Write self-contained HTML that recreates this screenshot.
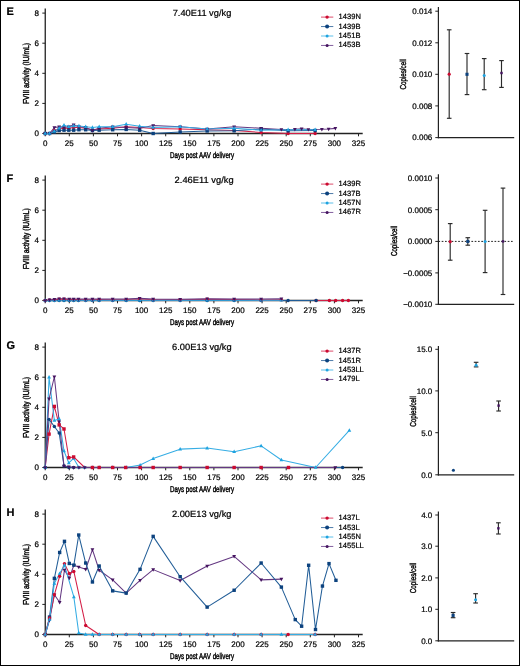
<!DOCTYPE html><html><head><meta charset="utf-8"><style>html,body{margin:0;padding:0;background:#fff}#f{position:relative;width:520px;height:666px;box-sizing:border-box;border:1px solid #000;overflow:hidden;background:#fff}svg{position:absolute;left:-1px;top:-1px}text{stroke:#000;stroke-width:0.22px;fill:#000;text-rendering:geometricPrecision}#f{will-change:transform}</style></head><body><div id="f"><svg width="520" height="666" viewBox="0 0 520 666">
<text x="6.4" y="15.00" font-size="11" font-weight="bold" font-family="Liberation Sans, sans-serif" fill="#000">E</text>
<text x="172.7" y="15.55" font-size="9.1" font-family="Liberation Sans, sans-serif" fill="#111" textLength="58.6" lengthAdjust="spacingAndGlyphs">7.40E11 vg/kg</text>
<text transform="translate(29.2 73.50) rotate(-90)" x="0" y="0" text-anchor="middle" font-size="8.6" font-family="Liberation Sans, sans-serif" fill="#111" style="stroke-width:0.42px" textLength="61" lengthAdjust="spacingAndGlyphs">FVIII activity (IU/mL)</text>
<text x="170.0" y="157.80" font-size="8.5" font-family="Liberation Sans, sans-serif" fill="#111" style="stroke-width:0.42px" textLength="64" lengthAdjust="spacingAndGlyphs">Days post AAV delivery</text>
<line x1="42.3" y1="133.50" x2="45.25" y2="133.50" stroke="#222" stroke-width="1"/>
<text x="38.9" y="136.10" text-anchor="end" font-size="8" font-family="Liberation Sans, sans-serif" fill="#111">0</text>
<line x1="42.3" y1="103.40" x2="45.25" y2="103.40" stroke="#222" stroke-width="1"/>
<text x="38.9" y="106.00" text-anchor="end" font-size="8" font-family="Liberation Sans, sans-serif" fill="#111">2</text>
<line x1="42.3" y1="73.30" x2="45.25" y2="73.30" stroke="#222" stroke-width="1"/>
<text x="38.9" y="75.90" text-anchor="end" font-size="8" font-family="Liberation Sans, sans-serif" fill="#111">4</text>
<line x1="42.3" y1="43.20" x2="45.25" y2="43.20" stroke="#222" stroke-width="1"/>
<text x="38.9" y="45.80" text-anchor="end" font-size="8" font-family="Liberation Sans, sans-serif" fill="#111">6</text>
<line x1="42.3" y1="13.10" x2="45.25" y2="13.10" stroke="#222" stroke-width="1"/>
<text x="38.9" y="15.70" text-anchor="end" font-size="8" font-family="Liberation Sans, sans-serif" fill="#111">8</text>
<line x1="45.20" y1="133.50" x2="45.20" y2="136.30" stroke="#222" stroke-width="1"/>
<text x="45.20" y="145.80" text-anchor="middle" font-size="8" font-family="Liberation Sans, sans-serif" fill="#111">0</text>
<line x1="69.30" y1="133.50" x2="69.30" y2="136.30" stroke="#222" stroke-width="1"/>
<text x="69.30" y="145.80" text-anchor="middle" font-size="8" font-family="Liberation Sans, sans-serif" fill="#111">25</text>
<line x1="93.40" y1="133.50" x2="93.40" y2="136.30" stroke="#222" stroke-width="1"/>
<text x="93.40" y="145.80" text-anchor="middle" font-size="8" font-family="Liberation Sans, sans-serif" fill="#111">50</text>
<line x1="117.50" y1="133.50" x2="117.50" y2="136.30" stroke="#222" stroke-width="1"/>
<text x="117.50" y="145.80" text-anchor="middle" font-size="8" font-family="Liberation Sans, sans-serif" fill="#111">75</text>
<line x1="141.60" y1="133.50" x2="141.60" y2="136.30" stroke="#222" stroke-width="1"/>
<text x="141.60" y="145.80" text-anchor="middle" font-size="8" font-family="Liberation Sans, sans-serif" fill="#111">100</text>
<line x1="165.70" y1="133.50" x2="165.70" y2="136.30" stroke="#222" stroke-width="1"/>
<text x="165.70" y="145.80" text-anchor="middle" font-size="8" font-family="Liberation Sans, sans-serif" fill="#111">125</text>
<line x1="189.80" y1="133.50" x2="189.80" y2="136.30" stroke="#222" stroke-width="1"/>
<text x="189.80" y="145.80" text-anchor="middle" font-size="8" font-family="Liberation Sans, sans-serif" fill="#111">150</text>
<line x1="213.90" y1="133.50" x2="213.90" y2="136.30" stroke="#222" stroke-width="1"/>
<text x="213.90" y="145.80" text-anchor="middle" font-size="8" font-family="Liberation Sans, sans-serif" fill="#111">175</text>
<line x1="238.00" y1="133.50" x2="238.00" y2="136.30" stroke="#222" stroke-width="1"/>
<text x="238.00" y="145.80" text-anchor="middle" font-size="8" font-family="Liberation Sans, sans-serif" fill="#111">200</text>
<line x1="262.10" y1="133.50" x2="262.10" y2="136.30" stroke="#222" stroke-width="1"/>
<text x="262.10" y="145.80" text-anchor="middle" font-size="8" font-family="Liberation Sans, sans-serif" fill="#111">225</text>
<line x1="286.20" y1="133.50" x2="286.20" y2="136.30" stroke="#222" stroke-width="1"/>
<text x="286.20" y="145.80" text-anchor="middle" font-size="8" font-family="Liberation Sans, sans-serif" fill="#111">250</text>
<line x1="310.30" y1="133.50" x2="310.30" y2="136.30" stroke="#222" stroke-width="1"/>
<text x="310.30" y="145.80" text-anchor="middle" font-size="8" font-family="Liberation Sans, sans-serif" fill="#111">275</text>
<line x1="334.40" y1="133.50" x2="334.40" y2="136.30" stroke="#222" stroke-width="1"/>
<text x="334.40" y="145.80" text-anchor="middle" font-size="8" font-family="Liberation Sans, sans-serif" fill="#111">300</text>
<line x1="358.50" y1="133.50" x2="358.50" y2="136.30" stroke="#222" stroke-width="1"/>
<text x="358.50" y="145.80" text-anchor="middle" font-size="8" font-family="Liberation Sans, sans-serif" fill="#111">325</text>
<line x1="45.25" y1="8.60" x2="45.25" y2="134.10" stroke="#222" stroke-width="1.3"/>
<line x1="44.6" y1="133.50" x2="362.7" y2="133.50" stroke="#222" stroke-width="1.3"/>
<path d="M45.20 133.50 L49.54 133.50 L54.36 130.49 L59.18 128.99 L64.00 128.23 L68.82 128.23 L73.64 127.48 L78.94 127.48 L85.69 128.23 L92.44 129.74 L99.18 128.99 L112.68 128.23 L126.18 126.73 L139.67 127.48 L153.17 128.53 L180.16 128.99 L207.15 129.74 L234.14 130.49 L261.14 132.45 L288.13 133.50 L315.12 133.50" fill="none" stroke="#d41e46" stroke-width="1.05" stroke-linejoin="round"/>
<path d="M45.20 133.50 L49.54 133.50 L54.36 132.00 L59.18 130.49 L64.00 130.19 L68.82 130.19 L73.64 130.19 L78.94 129.74 L85.69 129.74 L92.44 130.49 L99.18 130.19 L112.68 129.74 L126.18 129.44 L139.67 130.19 L153.17 133.50 L180.16 132.00 L207.15 130.94 L234.14 130.79 L261.14 128.99 L288.13 130.79 L315.12 130.49" fill="none" stroke="#215d97" stroke-width="1.05" stroke-linejoin="round"/>
<path d="M45.20 133.50 L49.54 133.50 L54.36 127.48 L59.18 126.88 L64.00 127.48 L68.82 126.73 L73.64 124.77 L78.94 126.73 L85.69 127.48 L92.44 130.49 L99.18 128.23 L112.68 126.73 L126.18 127.48 L139.67 128.23 L153.17 125.52 L180.16 126.73 L207.15 128.99 L234.14 126.73 L261.14 128.23 L281.38 129.44 L294.88 129.29 L301.62 128.83 L308.37 129.44 L321.87 129.29 L328.62 128.99 L335.36 128.38" fill="none" stroke="#643882" stroke-width="1.05" stroke-linejoin="round"/>
<path d="M45.20 133.50 L49.54 133.50 L54.36 131.24 L59.18 128.23 L64.00 125.22 L68.82 126.73 L73.64 125.97 L78.94 125.97 L85.69 126.73 L92.44 127.48 L99.18 126.73 L112.68 126.73 L126.18 124.17 L139.67 126.28 L153.17 127.48 L180.16 126.73 L207.15 128.99 L234.14 128.23 L261.14 130.19 L288.13 129.74 L315.12 129.74" fill="none" stroke="#36ade4" stroke-width="1.05" stroke-linejoin="round"/>
<circle cx="45.20" cy="133.50" r="1.70" fill="#cc0a30"/>
<circle cx="49.54" cy="133.50" r="1.70" fill="#cc0a30"/>
<circle cx="54.36" cy="130.49" r="1.70" fill="#cc0a30"/>
<circle cx="59.18" cy="128.99" r="1.70" fill="#cc0a30"/>
<circle cx="64.00" cy="128.23" r="1.70" fill="#cc0a30"/>
<circle cx="68.82" cy="128.23" r="1.70" fill="#cc0a30"/>
<circle cx="73.64" cy="127.48" r="1.70" fill="#cc0a30"/>
<circle cx="78.94" cy="127.48" r="1.70" fill="#cc0a30"/>
<circle cx="85.69" cy="128.23" r="1.70" fill="#cc0a30"/>
<circle cx="92.44" cy="129.74" r="1.70" fill="#cc0a30"/>
<circle cx="99.18" cy="128.99" r="1.70" fill="#cc0a30"/>
<circle cx="112.68" cy="128.23" r="1.70" fill="#cc0a30"/>
<circle cx="126.18" cy="126.73" r="1.70" fill="#cc0a30"/>
<circle cx="139.67" cy="127.48" r="1.70" fill="#cc0a30"/>
<circle cx="153.17" cy="128.53" r="1.70" fill="#cc0a30"/>
<circle cx="180.16" cy="128.99" r="1.70" fill="#cc0a30"/>
<circle cx="207.15" cy="129.74" r="1.70" fill="#cc0a30"/>
<circle cx="234.14" cy="130.49" r="1.70" fill="#cc0a30"/>
<circle cx="261.14" cy="132.45" r="1.70" fill="#cc0a30"/>
<circle cx="288.13" cy="133.50" r="1.70" fill="#cc0a30"/>
<circle cx="315.12" cy="133.50" r="1.70" fill="#cc0a30"/>
<rect x="43.50" y="131.80" width="3.40" height="3.40" fill="#0c427e"/>
<rect x="47.84" y="131.80" width="3.40" height="3.40" fill="#0c427e"/>
<rect x="52.66" y="130.30" width="3.40" height="3.40" fill="#0c427e"/>
<rect x="57.48" y="128.79" width="3.40" height="3.40" fill="#0c427e"/>
<rect x="62.30" y="128.49" width="3.40" height="3.40" fill="#0c427e"/>
<rect x="67.12" y="128.49" width="3.40" height="3.40" fill="#0c427e"/>
<rect x="71.94" y="128.49" width="3.40" height="3.40" fill="#0c427e"/>
<rect x="77.24" y="128.04" width="3.40" height="3.40" fill="#0c427e"/>
<rect x="83.99" y="128.04" width="3.40" height="3.40" fill="#0c427e"/>
<rect x="90.74" y="128.79" width="3.40" height="3.40" fill="#0c427e"/>
<rect x="97.48" y="128.49" width="3.40" height="3.40" fill="#0c427e"/>
<rect x="110.98" y="128.04" width="3.40" height="3.40" fill="#0c427e"/>
<rect x="124.48" y="127.74" width="3.40" height="3.40" fill="#0c427e"/>
<rect x="137.97" y="128.49" width="3.40" height="3.40" fill="#0c427e"/>
<rect x="151.47" y="131.80" width="3.40" height="3.40" fill="#0c427e"/>
<rect x="178.46" y="130.30" width="3.40" height="3.40" fill="#0c427e"/>
<rect x="205.45" y="129.24" width="3.40" height="3.40" fill="#0c427e"/>
<rect x="232.44" y="129.09" width="3.40" height="3.40" fill="#0c427e"/>
<rect x="259.44" y="127.29" width="3.40" height="3.40" fill="#0c427e"/>
<rect x="286.43" y="129.09" width="3.40" height="3.40" fill="#0c427e"/>
<rect x="313.42" y="128.79" width="3.40" height="3.40" fill="#0c427e"/>
<path d="M45.20 135.67L47.10 132.19L43.30 132.19Z" fill="#44135f"/>
<path d="M49.54 135.67L51.44 132.19L47.64 132.19Z" fill="#44135f"/>
<path d="M54.36 129.65L56.26 126.17L52.46 126.17Z" fill="#44135f"/>
<path d="M59.18 129.05L61.08 125.57L57.28 125.57Z" fill="#44135f"/>
<path d="M64.00 129.65L65.90 126.17L62.10 126.17Z" fill="#44135f"/>
<path d="M68.82 128.90L70.72 125.42L66.92 125.42Z" fill="#44135f"/>
<path d="M73.64 126.94L75.54 123.46L71.74 123.46Z" fill="#44135f"/>
<path d="M78.94 128.90L80.84 125.42L77.04 125.42Z" fill="#44135f"/>
<path d="M85.69 129.65L87.59 126.17L83.79 126.17Z" fill="#44135f"/>
<path d="M92.44 132.66L94.34 129.18L90.54 129.18Z" fill="#44135f"/>
<path d="M99.18 130.40L101.08 126.92L97.28 126.92Z" fill="#44135f"/>
<path d="M112.68 128.90L114.58 125.42L110.78 125.42Z" fill="#44135f"/>
<path d="M126.18 129.65L128.08 126.17L124.28 126.17Z" fill="#44135f"/>
<path d="M139.67 130.40L141.57 126.92L137.77 126.92Z" fill="#44135f"/>
<path d="M153.17 127.69L155.07 124.21L151.27 124.21Z" fill="#44135f"/>
<path d="M180.16 128.90L182.06 125.42L178.26 125.42Z" fill="#44135f"/>
<path d="M207.15 131.16L209.05 127.68L205.25 127.68Z" fill="#44135f"/>
<path d="M234.14 128.90L236.04 125.42L232.24 125.42Z" fill="#44135f"/>
<path d="M261.14 130.40L263.04 126.92L259.24 126.92Z" fill="#44135f"/>
<path d="M281.38 131.61L283.28 128.13L279.48 128.13Z" fill="#44135f"/>
<path d="M294.88 131.46L296.78 127.98L292.98 127.98Z" fill="#44135f"/>
<path d="M301.62 131.00L303.52 127.53L299.72 127.53Z" fill="#44135f"/>
<path d="M308.37 131.61L310.27 128.13L306.47 128.13Z" fill="#44135f"/>
<path d="M321.87 131.46L323.77 127.98L319.97 127.98Z" fill="#44135f"/>
<path d="M328.62 131.16L330.52 127.68L326.72 127.68Z" fill="#44135f"/>
<path d="M335.36 130.55L337.26 127.07L333.46 127.07Z" fill="#44135f"/>
<path d="M45.20 131.33L47.10 134.81L43.30 134.81Z" fill="#1fa3e0"/>
<path d="M49.54 131.33L51.44 134.81L47.64 134.81Z" fill="#1fa3e0"/>
<path d="M54.36 129.07L56.26 132.55L52.46 132.55Z" fill="#1fa3e0"/>
<path d="M59.18 126.06L61.08 129.54L57.28 129.54Z" fill="#1fa3e0"/>
<path d="M64.00 123.05L65.90 126.53L62.10 126.53Z" fill="#1fa3e0"/>
<path d="M68.82 124.56L70.72 128.04L66.92 128.04Z" fill="#1fa3e0"/>
<path d="M73.64 123.80L75.54 127.28L71.74 127.28Z" fill="#1fa3e0"/>
<path d="M78.94 123.80L80.84 127.28L77.04 127.28Z" fill="#1fa3e0"/>
<path d="M85.69 124.56L87.59 128.04L83.79 128.04Z" fill="#1fa3e0"/>
<path d="M92.44 125.31L94.34 128.79L90.54 128.79Z" fill="#1fa3e0"/>
<path d="M99.18 124.56L101.08 128.04L97.28 128.04Z" fill="#1fa3e0"/>
<path d="M112.68 124.56L114.58 128.04L110.78 128.04Z" fill="#1fa3e0"/>
<path d="M126.18 122.00L128.08 125.48L124.28 125.48Z" fill="#1fa3e0"/>
<path d="M139.67 124.11L141.57 127.58L137.77 127.58Z" fill="#1fa3e0"/>
<path d="M153.17 125.31L155.07 128.79L151.27 128.79Z" fill="#1fa3e0"/>
<path d="M180.16 124.56L182.06 128.04L178.26 128.04Z" fill="#1fa3e0"/>
<path d="M207.15 126.82L209.05 130.29L205.25 130.29Z" fill="#1fa3e0"/>
<path d="M234.14 126.06L236.04 129.54L232.24 129.54Z" fill="#1fa3e0"/>
<path d="M261.14 128.02L263.04 131.50L259.24 131.50Z" fill="#1fa3e0"/>
<path d="M288.13 127.57L290.03 131.05L286.23 131.05Z" fill="#1fa3e0"/>
<path d="M315.12 127.57L317.02 131.05L313.22 131.05Z" fill="#1fa3e0"/>
<line x1="321" y1="17.10" x2="333.3" y2="17.10" stroke="#d0103a" stroke-width="1" opacity="0.75"/>
<circle cx="327.1" cy="17.10" r="1.7" fill="#cc0a30"/>
<text x="338.6" y="19.05" font-size="7.55" font-family="Liberation Sans, sans-serif" fill="#111">1439N</text>
<line x1="321" y1="26.55" x2="333.3" y2="26.55" stroke="#124f8c" stroke-width="1" opacity="0.75"/>
<circle cx="327.1" cy="26.55" r="2.0" fill="#0c427e"/>
<text x="338.6" y="28.50" font-size="7.55" font-family="Liberation Sans, sans-serif" fill="#111">1439B</text>
<line x1="321" y1="36.00" x2="333.3" y2="36.00" stroke="#27a9e1" stroke-width="1" opacity="0.75"/>
<circle cx="327.1" cy="36.00" r="1.5" fill="#1fa3e0"/>
<text x="338.6" y="37.95" font-size="7.55" font-family="Liberation Sans, sans-serif" fill="#111">1451B</text>
<line x1="321" y1="45.45" x2="333.3" y2="45.45" stroke="#5a2a7e" stroke-width="1" opacity="0.75"/>
<circle cx="327.1" cy="45.45" r="1.5" fill="#44135f"/>
<text x="338.6" y="47.40" font-size="7.55" font-family="Liberation Sans, sans-serif" fill="#111">1453B</text>
<line x1="438.4" y1="6.9" x2="438.4" y2="138.20" stroke="#222" stroke-width="1.2"/>
<line x1="437.80" y1="137.6" x2="514.2" y2="137.6" stroke="#222" stroke-width="1.2"/>
<line x1="435.3" y1="11.2" x2="438.4" y2="11.2" stroke="#222" stroke-width="1"/>
<text x="432.30" y="14.00" text-anchor="end" font-size="8" font-family="Liberation Sans, sans-serif" fill="#111">0.014</text>
<line x1="435.3" y1="42.8" x2="438.4" y2="42.8" stroke="#222" stroke-width="1"/>
<text x="432.30" y="45.60" text-anchor="end" font-size="8" font-family="Liberation Sans, sans-serif" fill="#111">0.012</text>
<line x1="435.3" y1="74.3" x2="438.4" y2="74.3" stroke="#222" stroke-width="1"/>
<text x="432.30" y="77.10" text-anchor="end" font-size="8" font-family="Liberation Sans, sans-serif" fill="#111">0.010</text>
<line x1="435.3" y1="105.9" x2="438.4" y2="105.9" stroke="#222" stroke-width="1"/>
<text x="432.30" y="108.70" text-anchor="end" font-size="8" font-family="Liberation Sans, sans-serif" fill="#111">0.008</text>
<line x1="435.3" y1="137.6" x2="438.4" y2="137.6" stroke="#222" stroke-width="1"/>
<text x="432.30" y="140.40" text-anchor="end" font-size="8" font-family="Liberation Sans, sans-serif" fill="#111">0.006</text>
<text transform="translate(406.30 74.30) rotate(-90)" x="0" y="0" text-anchor="middle" font-size="8.6" font-family="Liberation Sans, sans-serif" fill="#111" style="stroke-width:0.4px" textLength="30.6" lengthAdjust="spacingAndGlyphs">Copies/cell</text>
<line x1="449.2" y1="29.8" x2="449.2" y2="118.3" stroke="#2a2a2a" stroke-width="1.15"/>
<line x1="446.90" y1="29.8" x2="451.50" y2="29.8" stroke="#2a2a2a" stroke-width="1.15"/>
<line x1="446.90" y1="118.3" x2="451.50" y2="118.3" stroke="#2a2a2a" stroke-width="1.15"/>
<circle cx="449.20" cy="74.20" r="1.60" fill="#cc0a30"/>
<line x1="467.0" y1="53.5" x2="467.0" y2="94.6" stroke="#2a2a2a" stroke-width="1.15"/>
<line x1="464.70" y1="53.5" x2="469.30" y2="53.5" stroke="#2a2a2a" stroke-width="1.15"/>
<line x1="464.70" y1="94.6" x2="469.30" y2="94.6" stroke="#2a2a2a" stroke-width="1.15"/>
<rect x="465.45" y="72.75" width="3.10" height="3.10" fill="#0c427e"/>
<line x1="484.2" y1="58.6" x2="484.2" y2="89.7" stroke="#2a2a2a" stroke-width="1.15"/>
<line x1="481.90" y1="58.6" x2="486.50" y2="58.6" stroke="#2a2a2a" stroke-width="1.15"/>
<line x1="481.90" y1="89.7" x2="486.50" y2="89.7" stroke="#2a2a2a" stroke-width="1.15"/>
<circle cx="484.20" cy="75.60" r="1.50" fill="#1fa3e0"/>
<line x1="501.5" y1="60.6" x2="501.5" y2="87.4" stroke="#2a2a2a" stroke-width="1.15"/>
<line x1="499.20" y1="60.6" x2="503.80" y2="60.6" stroke="#2a2a2a" stroke-width="1.15"/>
<line x1="499.20" y1="87.4" x2="503.80" y2="87.4" stroke="#2a2a2a" stroke-width="1.15"/>
<rect x="500.30" y="71.80" width="2.40" height="2.40" fill="#44135f"/>
<text x="6.4" y="182.00" font-size="11" font-weight="bold" font-family="Liberation Sans, sans-serif" fill="#000">F</text>
<text x="174.6" y="182.55" font-size="9.1" font-family="Liberation Sans, sans-serif" fill="#111" textLength="59.0" lengthAdjust="spacingAndGlyphs">2.46E11 vg/kg</text>
<text transform="translate(29.2 238.80) rotate(-90)" x="0" y="0" text-anchor="middle" font-size="8.6" font-family="Liberation Sans, sans-serif" fill="#111" style="stroke-width:0.42px" textLength="61" lengthAdjust="spacingAndGlyphs">FVIII activity (IU/mL)</text>
<text x="170.0" y="324.80" font-size="8.5" font-family="Liberation Sans, sans-serif" fill="#111" style="stroke-width:0.42px" textLength="64" lengthAdjust="spacingAndGlyphs">Days post AAV delivery</text>
<line x1="42.3" y1="300.50" x2="45.25" y2="300.50" stroke="#222" stroke-width="1"/>
<text x="38.9" y="303.10" text-anchor="end" font-size="8" font-family="Liberation Sans, sans-serif" fill="#111">0</text>
<line x1="42.3" y1="270.40" x2="45.25" y2="270.40" stroke="#222" stroke-width="1"/>
<text x="38.9" y="273.00" text-anchor="end" font-size="8" font-family="Liberation Sans, sans-serif" fill="#111">2</text>
<line x1="42.3" y1="240.30" x2="45.25" y2="240.30" stroke="#222" stroke-width="1"/>
<text x="38.9" y="242.90" text-anchor="end" font-size="8" font-family="Liberation Sans, sans-serif" fill="#111">4</text>
<line x1="42.3" y1="210.20" x2="45.25" y2="210.20" stroke="#222" stroke-width="1"/>
<text x="38.9" y="212.80" text-anchor="end" font-size="8" font-family="Liberation Sans, sans-serif" fill="#111">6</text>
<line x1="42.3" y1="180.10" x2="45.25" y2="180.10" stroke="#222" stroke-width="1"/>
<text x="38.9" y="182.70" text-anchor="end" font-size="8" font-family="Liberation Sans, sans-serif" fill="#111">8</text>
<line x1="45.20" y1="300.50" x2="45.20" y2="303.30" stroke="#222" stroke-width="1"/>
<text x="45.20" y="312.80" text-anchor="middle" font-size="8" font-family="Liberation Sans, sans-serif" fill="#111">0</text>
<line x1="69.30" y1="300.50" x2="69.30" y2="303.30" stroke="#222" stroke-width="1"/>
<text x="69.30" y="312.80" text-anchor="middle" font-size="8" font-family="Liberation Sans, sans-serif" fill="#111">25</text>
<line x1="93.40" y1="300.50" x2="93.40" y2="303.30" stroke="#222" stroke-width="1"/>
<text x="93.40" y="312.80" text-anchor="middle" font-size="8" font-family="Liberation Sans, sans-serif" fill="#111">50</text>
<line x1="117.50" y1="300.50" x2="117.50" y2="303.30" stroke="#222" stroke-width="1"/>
<text x="117.50" y="312.80" text-anchor="middle" font-size="8" font-family="Liberation Sans, sans-serif" fill="#111">75</text>
<line x1="141.60" y1="300.50" x2="141.60" y2="303.30" stroke="#222" stroke-width="1"/>
<text x="141.60" y="312.80" text-anchor="middle" font-size="8" font-family="Liberation Sans, sans-serif" fill="#111">100</text>
<line x1="165.70" y1="300.50" x2="165.70" y2="303.30" stroke="#222" stroke-width="1"/>
<text x="165.70" y="312.80" text-anchor="middle" font-size="8" font-family="Liberation Sans, sans-serif" fill="#111">125</text>
<line x1="189.80" y1="300.50" x2="189.80" y2="303.30" stroke="#222" stroke-width="1"/>
<text x="189.80" y="312.80" text-anchor="middle" font-size="8" font-family="Liberation Sans, sans-serif" fill="#111">150</text>
<line x1="213.90" y1="300.50" x2="213.90" y2="303.30" stroke="#222" stroke-width="1"/>
<text x="213.90" y="312.80" text-anchor="middle" font-size="8" font-family="Liberation Sans, sans-serif" fill="#111">175</text>
<line x1="238.00" y1="300.50" x2="238.00" y2="303.30" stroke="#222" stroke-width="1"/>
<text x="238.00" y="312.80" text-anchor="middle" font-size="8" font-family="Liberation Sans, sans-serif" fill="#111">200</text>
<line x1="262.10" y1="300.50" x2="262.10" y2="303.30" stroke="#222" stroke-width="1"/>
<text x="262.10" y="312.80" text-anchor="middle" font-size="8" font-family="Liberation Sans, sans-serif" fill="#111">225</text>
<line x1="286.20" y1="300.50" x2="286.20" y2="303.30" stroke="#222" stroke-width="1"/>
<text x="286.20" y="312.80" text-anchor="middle" font-size="8" font-family="Liberation Sans, sans-serif" fill="#111">250</text>
<line x1="310.30" y1="300.50" x2="310.30" y2="303.30" stroke="#222" stroke-width="1"/>
<text x="310.30" y="312.80" text-anchor="middle" font-size="8" font-family="Liberation Sans, sans-serif" fill="#111">275</text>
<line x1="334.40" y1="300.50" x2="334.40" y2="303.30" stroke="#222" stroke-width="1"/>
<text x="334.40" y="312.80" text-anchor="middle" font-size="8" font-family="Liberation Sans, sans-serif" fill="#111">300</text>
<line x1="358.50" y1="300.50" x2="358.50" y2="303.30" stroke="#222" stroke-width="1"/>
<text x="358.50" y="312.80" text-anchor="middle" font-size="8" font-family="Liberation Sans, sans-serif" fill="#111">325</text>
<line x1="45.25" y1="175.60" x2="45.25" y2="301.10" stroke="#222" stroke-width="1.3"/>
<line x1="44.6" y1="300.50" x2="362.7" y2="300.50" stroke="#222" stroke-width="1.3"/>
<path d="M316.08 300.50 L329.39 300.50 L335.65 300.50 L342.59 300.50 L348.38 300.50" fill="none" stroke="#d41e46" stroke-width="1.05" stroke-linejoin="round"/>
<path d="M45.20 300.50 L49.54 300.50 L54.36 300.50 L59.18 300.50 L64.00 300.50 L69.30 300.50 L73.64 300.50 L78.46 300.50 L85.69 300.50 L92.44 300.50 L99.18 300.50 L112.68 300.50 L126.18 300.50 L139.67 300.50 L153.17 300.50 L180.16 300.50 L207.15 300.50 L234.14 300.50 L261.14 300.50 L288.13 300.50 L316.08 300.50" fill="none" stroke="#215d97" stroke-width="1.05" stroke-linejoin="round"/>
<path d="M45.20 300.50 L49.54 300.05 L54.36 299.75 L59.18 299.30 L64.00 299.30 L69.30 299.60 L73.64 299.60 L78.46 299.60 L85.69 299.75 L92.44 299.75 L99.18 299.60 L112.68 299.75 L126.18 299.60 L139.67 299.00 L153.17 299.75 L180.16 299.75 L207.15 299.30 L234.14 299.60 L261.14 299.90 L281.38 299.75" fill="none" stroke="#d41e46" stroke-width="1.05" stroke-linejoin="round"/>
<path d="M45.20 300.50 L49.54 300.35 L54.36 300.35 L59.18 300.20 L64.00 300.20 L69.30 300.20 L73.64 300.20 L78.46 300.20 L85.69 300.20 L92.44 300.20 L99.18 300.20 L112.68 300.20 L126.18 300.20 L139.67 300.20 L153.17 300.20 L180.16 300.20 L207.15 300.20 L234.14 300.20 L261.14 300.20 L281.38 300.20" fill="none" stroke="#36ade4" stroke-width="1.05" stroke-linejoin="round"/>
<path d="M45.20 300.50 L49.54 299.90 L54.36 299.30 L59.18 298.69 L64.00 298.69 L69.30 299.00 L73.64 299.00 L78.46 299.00 L85.69 299.00 L92.44 299.00 L99.18 299.00 L112.68 299.00 L126.18 299.00 L139.67 298.24 L153.17 299.00 L180.16 299.30 L207.15 298.69 L234.14 299.00 L261.14 299.00 L281.38 298.69" fill="none" stroke="#643882" stroke-width="1.05" stroke-linejoin="round"/>
<circle cx="316.08" cy="300.50" r="1.70" fill="#cc0a30"/>
<circle cx="329.39" cy="300.50" r="1.70" fill="#cc0a30"/>
<circle cx="335.65" cy="300.50" r="1.70" fill="#cc0a30"/>
<circle cx="342.59" cy="300.50" r="1.70" fill="#cc0a30"/>
<circle cx="348.38" cy="300.50" r="1.70" fill="#cc0a30"/>
<circle cx="45.20" cy="300.50" r="1.70" fill="#0c427e"/>
<circle cx="49.54" cy="300.50" r="1.70" fill="#0c427e"/>
<circle cx="54.36" cy="300.50" r="1.70" fill="#0c427e"/>
<circle cx="59.18" cy="300.50" r="1.70" fill="#0c427e"/>
<circle cx="64.00" cy="300.50" r="1.70" fill="#0c427e"/>
<circle cx="69.30" cy="300.50" r="1.70" fill="#0c427e"/>
<circle cx="73.64" cy="300.50" r="1.70" fill="#0c427e"/>
<circle cx="78.46" cy="300.50" r="1.70" fill="#0c427e"/>
<circle cx="85.69" cy="300.50" r="1.70" fill="#0c427e"/>
<circle cx="92.44" cy="300.50" r="1.70" fill="#0c427e"/>
<circle cx="99.18" cy="300.50" r="1.70" fill="#0c427e"/>
<circle cx="112.68" cy="300.50" r="1.70" fill="#0c427e"/>
<circle cx="126.18" cy="300.50" r="1.70" fill="#0c427e"/>
<circle cx="139.67" cy="300.50" r="1.70" fill="#0c427e"/>
<circle cx="153.17" cy="300.50" r="1.70" fill="#0c427e"/>
<circle cx="180.16" cy="300.50" r="1.70" fill="#0c427e"/>
<circle cx="207.15" cy="300.50" r="1.70" fill="#0c427e"/>
<circle cx="234.14" cy="300.50" r="1.70" fill="#0c427e"/>
<circle cx="261.14" cy="300.50" r="1.70" fill="#0c427e"/>
<circle cx="288.13" cy="300.50" r="1.70" fill="#0c427e"/>
<circle cx="316.08" cy="300.50" r="1.70" fill="#0c427e"/>
<circle cx="45.20" cy="300.50" r="1.70" fill="#cc0a30"/>
<circle cx="49.54" cy="300.05" r="1.70" fill="#cc0a30"/>
<circle cx="54.36" cy="299.75" r="1.70" fill="#cc0a30"/>
<circle cx="59.18" cy="299.30" r="1.70" fill="#cc0a30"/>
<circle cx="64.00" cy="299.30" r="1.70" fill="#cc0a30"/>
<circle cx="69.30" cy="299.60" r="1.70" fill="#cc0a30"/>
<circle cx="73.64" cy="299.60" r="1.70" fill="#cc0a30"/>
<circle cx="78.46" cy="299.60" r="1.70" fill="#cc0a30"/>
<circle cx="85.69" cy="299.75" r="1.70" fill="#cc0a30"/>
<circle cx="92.44" cy="299.75" r="1.70" fill="#cc0a30"/>
<circle cx="99.18" cy="299.60" r="1.70" fill="#cc0a30"/>
<circle cx="112.68" cy="299.75" r="1.70" fill="#cc0a30"/>
<circle cx="126.18" cy="299.60" r="1.70" fill="#cc0a30"/>
<circle cx="139.67" cy="299.00" r="1.70" fill="#cc0a30"/>
<circle cx="153.17" cy="299.75" r="1.70" fill="#cc0a30"/>
<circle cx="180.16" cy="299.75" r="1.70" fill="#cc0a30"/>
<circle cx="207.15" cy="299.30" r="1.70" fill="#cc0a30"/>
<circle cx="234.14" cy="299.60" r="1.70" fill="#cc0a30"/>
<circle cx="261.14" cy="299.90" r="1.70" fill="#cc0a30"/>
<circle cx="281.38" cy="299.75" r="1.70" fill="#cc0a30"/>
<path d="M45.20 298.33L47.10 301.81L43.30 301.81Z" fill="#1fa3e0"/>
<path d="M49.54 298.18L51.44 301.66L47.64 301.66Z" fill="#1fa3e0"/>
<path d="M54.36 298.18L56.26 301.66L52.46 301.66Z" fill="#1fa3e0"/>
<path d="M59.18 298.03L61.08 301.51L57.28 301.51Z" fill="#1fa3e0"/>
<path d="M64.00 298.03L65.90 301.51L62.10 301.51Z" fill="#1fa3e0"/>
<path d="M69.30 298.03L71.20 301.51L67.40 301.51Z" fill="#1fa3e0"/>
<path d="M73.64 298.03L75.54 301.51L71.74 301.51Z" fill="#1fa3e0"/>
<path d="M78.46 298.03L80.36 301.51L76.56 301.51Z" fill="#1fa3e0"/>
<path d="M85.69 298.03L87.59 301.51L83.79 301.51Z" fill="#1fa3e0"/>
<path d="M92.44 298.03L94.34 301.51L90.54 301.51Z" fill="#1fa3e0"/>
<path d="M99.18 298.03L101.08 301.51L97.28 301.51Z" fill="#1fa3e0"/>
<path d="M112.68 298.03L114.58 301.51L110.78 301.51Z" fill="#1fa3e0"/>
<path d="M126.18 298.03L128.08 301.51L124.28 301.51Z" fill="#1fa3e0"/>
<path d="M139.67 298.03L141.57 301.51L137.77 301.51Z" fill="#1fa3e0"/>
<path d="M153.17 298.03L155.07 301.51L151.27 301.51Z" fill="#1fa3e0"/>
<path d="M180.16 298.03L182.06 301.51L178.26 301.51Z" fill="#1fa3e0"/>
<path d="M207.15 298.03L209.05 301.51L205.25 301.51Z" fill="#1fa3e0"/>
<path d="M234.14 298.03L236.04 301.51L232.24 301.51Z" fill="#1fa3e0"/>
<path d="M261.14 298.03L263.04 301.51L259.24 301.51Z" fill="#1fa3e0"/>
<path d="M281.38 298.03L283.28 301.51L279.48 301.51Z" fill="#1fa3e0"/>
<path d="M45.20 302.67L47.10 299.19L43.30 299.19Z" fill="#44135f"/>
<path d="M49.54 302.07L51.44 298.59L47.64 298.59Z" fill="#44135f"/>
<path d="M54.36 301.47L56.26 297.99L52.46 297.99Z" fill="#44135f"/>
<path d="M59.18 300.86L61.08 297.38L57.28 297.38Z" fill="#44135f"/>
<path d="M64.00 300.86L65.90 297.38L62.10 297.38Z" fill="#44135f"/>
<path d="M69.30 301.17L71.20 297.69L67.40 297.69Z" fill="#44135f"/>
<path d="M73.64 301.17L75.54 297.69L71.74 297.69Z" fill="#44135f"/>
<path d="M78.46 301.17L80.36 297.69L76.56 297.69Z" fill="#44135f"/>
<path d="M85.69 301.17L87.59 297.69L83.79 297.69Z" fill="#44135f"/>
<path d="M92.44 301.17L94.34 297.69L90.54 297.69Z" fill="#44135f"/>
<path d="M99.18 301.17L101.08 297.69L97.28 297.69Z" fill="#44135f"/>
<path d="M112.68 301.17L114.58 297.69L110.78 297.69Z" fill="#44135f"/>
<path d="M126.18 301.17L128.08 297.69L124.28 297.69Z" fill="#44135f"/>
<path d="M139.67 300.41L141.57 296.93L137.77 296.93Z" fill="#44135f"/>
<path d="M153.17 301.17L155.07 297.69L151.27 297.69Z" fill="#44135f"/>
<path d="M180.16 301.47L182.06 297.99L178.26 297.99Z" fill="#44135f"/>
<path d="M207.15 300.86L209.05 297.38L205.25 297.38Z" fill="#44135f"/>
<path d="M234.14 301.17L236.04 297.69L232.24 297.69Z" fill="#44135f"/>
<path d="M261.14 301.17L263.04 297.69L259.24 297.69Z" fill="#44135f"/>
<path d="M281.38 300.86L283.28 297.38L279.48 297.38Z" fill="#44135f"/>
<line x1="321" y1="184.10" x2="333.3" y2="184.10" stroke="#d0103a" stroke-width="1" opacity="0.75"/>
<circle cx="327.1" cy="184.10" r="1.7" fill="#cc0a30"/>
<text x="338.6" y="186.05" font-size="7.55" font-family="Liberation Sans, sans-serif" fill="#111">1439R</text>
<line x1="321" y1="193.55" x2="333.3" y2="193.55" stroke="#124f8c" stroke-width="1" opacity="0.75"/>
<circle cx="327.1" cy="193.55" r="2.0" fill="#0c427e"/>
<text x="338.6" y="195.50" font-size="7.55" font-family="Liberation Sans, sans-serif" fill="#111">1437B</text>
<line x1="321" y1="203.00" x2="333.3" y2="203.00" stroke="#27a9e1" stroke-width="1" opacity="0.75"/>
<circle cx="327.1" cy="203.00" r="1.5" fill="#1fa3e0"/>
<text x="338.6" y="204.95" font-size="7.55" font-family="Liberation Sans, sans-serif" fill="#111">1457N</text>
<line x1="321" y1="212.45" x2="333.3" y2="212.45" stroke="#5a2a7e" stroke-width="1" opacity="0.75"/>
<circle cx="327.1" cy="212.45" r="1.5" fill="#44135f"/>
<text x="338.6" y="214.40" font-size="7.55" font-family="Liberation Sans, sans-serif" fill="#111">1467R</text>
<line x1="438.4" y1="174.2" x2="438.4" y2="304.90" stroke="#222" stroke-width="1.2"/>
<line x1="437.80" y1="304.3" x2="514.2" y2="304.3" stroke="#222" stroke-width="1.2"/>
<line x1="435.3" y1="178.0" x2="438.4" y2="178.0" stroke="#222" stroke-width="1"/>
<text x="432.30" y="180.80" text-anchor="end" font-size="8" font-family="Liberation Sans, sans-serif" fill="#111">0.0010</text>
<line x1="435.3" y1="209.7" x2="438.4" y2="209.7" stroke="#222" stroke-width="1"/>
<text x="432.30" y="212.50" text-anchor="end" font-size="8" font-family="Liberation Sans, sans-serif" fill="#111">0.0005</text>
<line x1="435.3" y1="241.4" x2="438.4" y2="241.4" stroke="#222" stroke-width="1"/>
<text x="432.30" y="244.20" text-anchor="end" font-size="8" font-family="Liberation Sans, sans-serif" fill="#111">0.0000</text>
<line x1="435.3" y1="272.9" x2="438.4" y2="272.9" stroke="#222" stroke-width="1"/>
<text x="432.30" y="275.70" text-anchor="end" font-size="8" font-family="Liberation Sans, sans-serif" fill="#111">&#8722;0.0005</text>
<line x1="435.3" y1="304.3" x2="438.4" y2="304.3" stroke="#222" stroke-width="1"/>
<text x="432.30" y="307.10" text-anchor="end" font-size="8" font-family="Liberation Sans, sans-serif" fill="#111">&#8722;0.0010</text>
<text transform="translate(396.60 240.90) rotate(-90)" x="0" y="0" text-anchor="middle" font-size="8.6" font-family="Liberation Sans, sans-serif" fill="#111" style="stroke-width:0.4px" textLength="30.4" lengthAdjust="spacingAndGlyphs">Copies/cell</text>
<line x1="438.4" y1="241.4" x2="514" y2="241.4" stroke="#222" stroke-width="1" stroke-dasharray="1.7 1.6"/>
<line x1="450.2" y1="223.6" x2="450.2" y2="260.2" stroke="#2a2a2a" stroke-width="1.15"/>
<line x1="447.90" y1="223.6" x2="452.50" y2="223.6" stroke="#2a2a2a" stroke-width="1.15"/>
<line x1="447.90" y1="260.2" x2="452.50" y2="260.2" stroke="#2a2a2a" stroke-width="1.15"/>
<circle cx="450.20" cy="241.70" r="1.60" fill="#cc0a30"/>
<line x1="467.8" y1="237.7" x2="467.8" y2="245.2" stroke="#2a2a2a" stroke-width="1.15"/>
<line x1="465.50" y1="237.7" x2="470.10" y2="237.7" stroke="#2a2a2a" stroke-width="1.15"/>
<line x1="465.50" y1="245.2" x2="470.10" y2="245.2" stroke="#2a2a2a" stroke-width="1.15"/>
<rect x="466.25" y="239.85" width="3.10" height="3.10" fill="#0c427e"/>
<line x1="485.1" y1="210.3" x2="485.1" y2="272.6" stroke="#2a2a2a" stroke-width="1.15"/>
<line x1="482.80" y1="210.3" x2="487.40" y2="210.3" stroke="#2a2a2a" stroke-width="1.15"/>
<line x1="482.80" y1="272.6" x2="487.40" y2="272.6" stroke="#2a2a2a" stroke-width="1.15"/>
<circle cx="485.10" cy="241.40" r="1.50" fill="#1fa3e0"/>
<line x1="503.0" y1="188.1" x2="503.0" y2="294.5" stroke="#2a2a2a" stroke-width="1.15"/>
<line x1="500.70" y1="188.1" x2="505.30" y2="188.1" stroke="#2a2a2a" stroke-width="1.15"/>
<line x1="500.70" y1="294.5" x2="505.30" y2="294.5" stroke="#2a2a2a" stroke-width="1.15"/>
<rect x="501.80" y="240.20" width="2.40" height="2.40" fill="#44135f"/>
<text x="6.4" y="349.00" font-size="11" font-weight="bold" font-family="Liberation Sans, sans-serif" fill="#000">G</text>
<text x="172.1" y="349.55" font-size="9.1" font-family="Liberation Sans, sans-serif" fill="#111" textLength="59.6" lengthAdjust="spacingAndGlyphs">6.00E13 vg/kg</text>
<text transform="translate(29.2 407.50) rotate(-90)" x="0" y="0" text-anchor="middle" font-size="8.6" font-family="Liberation Sans, sans-serif" fill="#111" style="stroke-width:0.42px" textLength="61" lengthAdjust="spacingAndGlyphs">FVIII activity (IU/mL)</text>
<text x="170.0" y="491.80" font-size="8.5" font-family="Liberation Sans, sans-serif" fill="#111" style="stroke-width:0.42px" textLength="64" lengthAdjust="spacingAndGlyphs">Days post AAV delivery</text>
<line x1="42.3" y1="467.50" x2="45.25" y2="467.50" stroke="#222" stroke-width="1"/>
<text x="38.9" y="470.10" text-anchor="end" font-size="8" font-family="Liberation Sans, sans-serif" fill="#111">0</text>
<line x1="42.3" y1="437.40" x2="45.25" y2="437.40" stroke="#222" stroke-width="1"/>
<text x="38.9" y="440.00" text-anchor="end" font-size="8" font-family="Liberation Sans, sans-serif" fill="#111">2</text>
<line x1="42.3" y1="407.30" x2="45.25" y2="407.30" stroke="#222" stroke-width="1"/>
<text x="38.9" y="409.90" text-anchor="end" font-size="8" font-family="Liberation Sans, sans-serif" fill="#111">4</text>
<line x1="42.3" y1="377.20" x2="45.25" y2="377.20" stroke="#222" stroke-width="1"/>
<text x="38.9" y="379.80" text-anchor="end" font-size="8" font-family="Liberation Sans, sans-serif" fill="#111">6</text>
<line x1="42.3" y1="347.10" x2="45.25" y2="347.10" stroke="#222" stroke-width="1"/>
<text x="38.9" y="349.70" text-anchor="end" font-size="8" font-family="Liberation Sans, sans-serif" fill="#111">8</text>
<line x1="45.20" y1="467.50" x2="45.20" y2="470.30" stroke="#222" stroke-width="1"/>
<text x="45.20" y="479.80" text-anchor="middle" font-size="8" font-family="Liberation Sans, sans-serif" fill="#111">0</text>
<line x1="69.30" y1="467.50" x2="69.30" y2="470.30" stroke="#222" stroke-width="1"/>
<text x="69.30" y="479.80" text-anchor="middle" font-size="8" font-family="Liberation Sans, sans-serif" fill="#111">25</text>
<line x1="93.40" y1="467.50" x2="93.40" y2="470.30" stroke="#222" stroke-width="1"/>
<text x="93.40" y="479.80" text-anchor="middle" font-size="8" font-family="Liberation Sans, sans-serif" fill="#111">50</text>
<line x1="117.50" y1="467.50" x2="117.50" y2="470.30" stroke="#222" stroke-width="1"/>
<text x="117.50" y="479.80" text-anchor="middle" font-size="8" font-family="Liberation Sans, sans-serif" fill="#111">75</text>
<line x1="141.60" y1="467.50" x2="141.60" y2="470.30" stroke="#222" stroke-width="1"/>
<text x="141.60" y="479.80" text-anchor="middle" font-size="8" font-family="Liberation Sans, sans-serif" fill="#111">100</text>
<line x1="165.70" y1="467.50" x2="165.70" y2="470.30" stroke="#222" stroke-width="1"/>
<text x="165.70" y="479.80" text-anchor="middle" font-size="8" font-family="Liberation Sans, sans-serif" fill="#111">125</text>
<line x1="189.80" y1="467.50" x2="189.80" y2="470.30" stroke="#222" stroke-width="1"/>
<text x="189.80" y="479.80" text-anchor="middle" font-size="8" font-family="Liberation Sans, sans-serif" fill="#111">150</text>
<line x1="213.90" y1="467.50" x2="213.90" y2="470.30" stroke="#222" stroke-width="1"/>
<text x="213.90" y="479.80" text-anchor="middle" font-size="8" font-family="Liberation Sans, sans-serif" fill="#111">175</text>
<line x1="238.00" y1="467.50" x2="238.00" y2="470.30" stroke="#222" stroke-width="1"/>
<text x="238.00" y="479.80" text-anchor="middle" font-size="8" font-family="Liberation Sans, sans-serif" fill="#111">200</text>
<line x1="262.10" y1="467.50" x2="262.10" y2="470.30" stroke="#222" stroke-width="1"/>
<text x="262.10" y="479.80" text-anchor="middle" font-size="8" font-family="Liberation Sans, sans-serif" fill="#111">225</text>
<line x1="286.20" y1="467.50" x2="286.20" y2="470.30" stroke="#222" stroke-width="1"/>
<text x="286.20" y="479.80" text-anchor="middle" font-size="8" font-family="Liberation Sans, sans-serif" fill="#111">250</text>
<line x1="310.30" y1="467.50" x2="310.30" y2="470.30" stroke="#222" stroke-width="1"/>
<text x="310.30" y="479.80" text-anchor="middle" font-size="8" font-family="Liberation Sans, sans-serif" fill="#111">275</text>
<line x1="334.40" y1="467.50" x2="334.40" y2="470.30" stroke="#222" stroke-width="1"/>
<text x="334.40" y="479.80" text-anchor="middle" font-size="8" font-family="Liberation Sans, sans-serif" fill="#111">300</text>
<line x1="358.50" y1="467.50" x2="358.50" y2="470.30" stroke="#222" stroke-width="1"/>
<text x="358.50" y="479.80" text-anchor="middle" font-size="8" font-family="Liberation Sans, sans-serif" fill="#111">325</text>
<line x1="45.25" y1="342.60" x2="45.25" y2="468.10" stroke="#222" stroke-width="1.3"/>
<line x1="44.6" y1="467.50" x2="362.7" y2="467.50" stroke="#222" stroke-width="1.3"/>
<path d="M45.20 467.50 L49.06 434.09 L54.36 406.40 L59.18 424.91 L64.00 428.97 L68.82 457.72 L73.64 456.96 L84.72 467.50 L92.44 467.50 L99.18 467.50 L112.68 467.50 L125.69 467.50 L140.15 467.50 L153.17 467.50 L180.16 467.50 L207.15 467.50 L234.14 467.50 L261.14 467.50 L288.51 467.50" fill="none" stroke="#d41e46" stroke-width="1.05" stroke-linejoin="round"/>
<path d="M45.20 467.50 L49.06 419.34 L54.36 426.56 L59.18 433.04 L64.00 466.00 L68.82 467.50 L73.64 467.50 L342.59 467.50" fill="none" stroke="#215d97" stroke-width="1.05" stroke-linejoin="round"/>
<path d="M45.20 467.50 L49.06 377.20 L54.36 420.54 L59.18 418.89 L64.00 450.94 L68.82 462.99 L73.64 458.47 L78.94 467.50 L84.72 467.50 L92.44 467.50 L99.18 467.50 L112.68 467.50 L126.18 467.50 L140.15 465.09 L153.17 458.62 L180.16 449.14 L207.15 448.09 L234.14 451.70 L261.14 445.83 L281.38 459.98 L315.60 467.50 L349.34 430.33" fill="none" stroke="#36ade4" stroke-width="1.05" stroke-linejoin="round"/>
<path d="M45.20 467.50 L49.06 398.87 L54.36 376.75 L59.18 421.75 L64.00 466.00 L68.82 466.75 L73.64 467.50 L78.94 467.50 L84.72 467.50 L335.36 467.50" fill="none" stroke="#643882" stroke-width="1.05" stroke-linejoin="round"/>
<circle cx="45.20" cy="467.50" r="1.70" fill="#0c427e"/>
<circle cx="49.06" cy="419.34" r="1.70" fill="#0c427e"/>
<circle cx="54.36" cy="426.56" r="1.70" fill="#0c427e"/>
<circle cx="59.18" cy="433.04" r="1.70" fill="#0c427e"/>
<circle cx="64.00" cy="466.00" r="1.70" fill="#0c427e"/>
<circle cx="68.82" cy="467.50" r="1.70" fill="#0c427e"/>
<circle cx="73.64" cy="467.50" r="1.70" fill="#0c427e"/>
<circle cx="342.59" cy="467.50" r="1.70" fill="#0c427e"/>
<path d="M45.20 465.33L47.10 468.81L43.30 468.81Z" fill="#1fa3e0"/>
<path d="M49.06 375.03L50.96 378.51L47.16 378.51Z" fill="#1fa3e0"/>
<path d="M54.36 418.37L56.26 421.85L52.46 421.85Z" fill="#1fa3e0"/>
<path d="M59.18 416.72L61.08 420.20L57.28 420.20Z" fill="#1fa3e0"/>
<path d="M64.00 448.77L65.90 452.25L62.10 452.25Z" fill="#1fa3e0"/>
<path d="M68.82 460.81L70.72 464.29L66.92 464.29Z" fill="#1fa3e0"/>
<path d="M73.64 456.30L75.54 459.78L71.74 459.78Z" fill="#1fa3e0"/>
<path d="M78.94 465.33L80.84 468.81L77.04 468.81Z" fill="#1fa3e0"/>
<path d="M84.72 465.33L86.62 468.81L82.82 468.81Z" fill="#1fa3e0"/>
<path d="M92.44 465.33L94.34 468.81L90.54 468.81Z" fill="#1fa3e0"/>
<path d="M99.18 465.33L101.08 468.81L97.28 468.81Z" fill="#1fa3e0"/>
<path d="M112.68 465.33L114.58 468.81L110.78 468.81Z" fill="#1fa3e0"/>
<path d="M126.18 465.33L128.08 468.81L124.28 468.81Z" fill="#1fa3e0"/>
<path d="M140.15 462.92L142.05 466.40L138.25 466.40Z" fill="#1fa3e0"/>
<path d="M153.17 456.45L155.07 459.93L151.27 459.93Z" fill="#1fa3e0"/>
<path d="M180.16 446.97L182.06 450.45L178.26 450.45Z" fill="#1fa3e0"/>
<path d="M207.15 445.92L209.05 449.39L205.25 449.39Z" fill="#1fa3e0"/>
<path d="M234.14 449.53L236.04 453.01L232.24 453.01Z" fill="#1fa3e0"/>
<path d="M261.14 443.66L263.04 447.14L259.24 447.14Z" fill="#1fa3e0"/>
<path d="M281.38 457.81L283.28 461.28L279.48 461.28Z" fill="#1fa3e0"/>
<path d="M315.60 465.33L317.50 468.81L313.70 468.81Z" fill="#1fa3e0"/>
<path d="M349.34 428.16L351.24 431.64L347.44 431.64Z" fill="#1fa3e0"/>
<path d="M45.20 469.67L47.10 466.19L43.30 466.19Z" fill="#44135f"/>
<path d="M49.06 401.04L50.96 397.56L47.16 397.56Z" fill="#44135f"/>
<path d="M54.36 378.92L56.26 375.44L52.46 375.44Z" fill="#44135f"/>
<path d="M59.18 423.92L61.08 420.44L57.28 420.44Z" fill="#44135f"/>
<path d="M64.00 468.17L65.90 464.69L62.10 464.69Z" fill="#44135f"/>
<path d="M68.82 468.92L70.72 465.44L66.92 465.44Z" fill="#44135f"/>
<path d="M73.64 469.67L75.54 466.19L71.74 466.19Z" fill="#44135f"/>
<path d="M78.94 469.67L80.84 466.19L77.04 466.19Z" fill="#44135f"/>
<path d="M84.72 469.67L86.62 466.19L82.82 466.19Z" fill="#44135f"/>
<path d="M335.36 469.67L337.26 466.19L333.46 466.19Z" fill="#44135f"/>
<rect x="47.36" y="432.39" width="3.40" height="3.40" fill="#cc0a30"/>
<rect x="52.66" y="404.70" width="3.40" height="3.40" fill="#cc0a30"/>
<rect x="57.48" y="423.21" width="3.40" height="3.40" fill="#cc0a30"/>
<rect x="62.30" y="427.27" width="3.40" height="3.40" fill="#cc0a30"/>
<rect x="67.12" y="456.02" width="3.40" height="3.40" fill="#cc0a30"/>
<rect x="71.94" y="455.26" width="3.40" height="3.40" fill="#cc0a30"/>
<rect x="90.74" y="465.80" width="3.40" height="3.40" fill="#cc0a30"/>
<rect x="97.48" y="465.80" width="3.40" height="3.40" fill="#cc0a30"/>
<rect x="110.98" y="465.80" width="3.40" height="3.40" fill="#cc0a30"/>
<rect x="123.99" y="465.80" width="3.40" height="3.40" fill="#cc0a30"/>
<rect x="138.45" y="465.80" width="3.40" height="3.40" fill="#cc0a30"/>
<rect x="151.47" y="465.80" width="3.40" height="3.40" fill="#cc0a30"/>
<rect x="178.46" y="465.80" width="3.40" height="3.40" fill="#cc0a30"/>
<rect x="205.45" y="465.80" width="3.40" height="3.40" fill="#cc0a30"/>
<rect x="232.44" y="465.80" width="3.40" height="3.40" fill="#cc0a30"/>
<rect x="259.44" y="465.80" width="3.40" height="3.40" fill="#cc0a30"/>
<rect x="286.81" y="465.80" width="3.40" height="3.40" fill="#cc0a30"/>
<line x1="321" y1="351.10" x2="333.3" y2="351.10" stroke="#d0103a" stroke-width="1" opacity="0.75"/>
<circle cx="327.1" cy="351.10" r="1.7" fill="#cc0a30"/>
<text x="338.6" y="353.05" font-size="7.55" font-family="Liberation Sans, sans-serif" fill="#111">1437R</text>
<line x1="321" y1="360.55" x2="333.3" y2="360.55" stroke="#124f8c" stroke-width="1" opacity="0.75"/>
<circle cx="327.1" cy="360.55" r="2.0" fill="#0c427e"/>
<text x="338.6" y="362.50" font-size="7.55" font-family="Liberation Sans, sans-serif" fill="#111">1451R</text>
<line x1="321" y1="370.00" x2="333.3" y2="370.00" stroke="#27a9e1" stroke-width="1" opacity="0.75"/>
<circle cx="327.1" cy="370.00" r="1.5" fill="#1fa3e0"/>
<text x="338.6" y="371.95" font-size="7.55" font-family="Liberation Sans, sans-serif" fill="#111">1453LL</text>
<line x1="321" y1="379.45" x2="333.3" y2="379.45" stroke="#5a2a7e" stroke-width="1" opacity="0.75"/>
<circle cx="327.1" cy="379.45" r="1.5" fill="#44135f"/>
<text x="338.6" y="381.40" font-size="7.55" font-family="Liberation Sans, sans-serif" fill="#111">1479L</text>
<line x1="438.4" y1="345.9" x2="438.4" y2="475.40" stroke="#222" stroke-width="1.2"/>
<line x1="437.80" y1="474.8" x2="514.2" y2="474.8" stroke="#222" stroke-width="1.2"/>
<line x1="435.3" y1="349.3" x2="438.4" y2="349.3" stroke="#222" stroke-width="1"/>
<text x="432.30" y="352.10" text-anchor="end" font-size="8" font-family="Liberation Sans, sans-serif" fill="#111">15.0</text>
<line x1="435.3" y1="390.9" x2="438.4" y2="390.9" stroke="#222" stroke-width="1"/>
<text x="432.30" y="393.70" text-anchor="end" font-size="8" font-family="Liberation Sans, sans-serif" fill="#111">10.0</text>
<line x1="435.3" y1="432.7" x2="438.4" y2="432.7" stroke="#222" stroke-width="1"/>
<text x="432.30" y="435.50" text-anchor="end" font-size="8" font-family="Liberation Sans, sans-serif" fill="#111">5.0</text>
<line x1="435.3" y1="474.8" x2="438.4" y2="474.8" stroke="#222" stroke-width="1"/>
<text x="432.30" y="477.60" text-anchor="end" font-size="8" font-family="Liberation Sans, sans-serif" fill="#111">0.0</text>
<text transform="translate(415.80 411.50) rotate(-90)" x="0" y="0" text-anchor="middle" font-size="8.6" font-family="Liberation Sans, sans-serif" fill="#111" style="stroke-width:0.4px" textLength="30.6" lengthAdjust="spacingAndGlyphs">Copies/cell</text>
<circle cx="453.40" cy="470.20" r="1.55" fill="#0c427e"/>
<line x1="476.1" y1="362.3" x2="476.1" y2="366.9" stroke="#2a2a2a" stroke-width="1.15"/>
<line x1="473.80" y1="362.3" x2="478.40" y2="362.3" stroke="#2a2a2a" stroke-width="1.15"/>
<line x1="473.80" y1="366.9" x2="478.40" y2="366.9" stroke="#2a2a2a" stroke-width="1.15"/>
<circle cx="476.10" cy="365.20" r="1.50" fill="#1fa3e0"/>
<line x1="498.6" y1="401.0" x2="498.6" y2="411.0" stroke="#2a2a2a" stroke-width="1.15"/>
<line x1="496.30" y1="401.0" x2="500.90" y2="401.0" stroke="#2a2a2a" stroke-width="1.15"/>
<line x1="496.30" y1="411.0" x2="500.90" y2="411.0" stroke="#2a2a2a" stroke-width="1.15"/>
<rect x="497.40" y="404.40" width="2.40" height="2.40" fill="#44135f"/>
<text x="6.4" y="516.00" font-size="11" font-weight="bold" font-family="Liberation Sans, sans-serif" fill="#000">H</text>
<text x="171.9" y="516.55" font-size="9.1" font-family="Liberation Sans, sans-serif" fill="#111" textLength="59.6" lengthAdjust="spacingAndGlyphs">2.00E13 vg/kg</text>
<text transform="translate(29.2 574.50) rotate(-90)" x="0" y="0" text-anchor="middle" font-size="8.6" font-family="Liberation Sans, sans-serif" fill="#111" style="stroke-width:0.42px" textLength="61" lengthAdjust="spacingAndGlyphs">FVIII activity (IU/mL)</text>
<text x="170.0" y="658.80" font-size="8.5" font-family="Liberation Sans, sans-serif" fill="#111" style="stroke-width:0.42px" textLength="64" lengthAdjust="spacingAndGlyphs">Days post AAV delivery</text>
<line x1="42.3" y1="634.50" x2="45.25" y2="634.50" stroke="#222" stroke-width="1"/>
<text x="38.9" y="637.10" text-anchor="end" font-size="8" font-family="Liberation Sans, sans-serif" fill="#111">0</text>
<line x1="42.3" y1="604.40" x2="45.25" y2="604.40" stroke="#222" stroke-width="1"/>
<text x="38.9" y="607.00" text-anchor="end" font-size="8" font-family="Liberation Sans, sans-serif" fill="#111">2</text>
<line x1="42.3" y1="574.30" x2="45.25" y2="574.30" stroke="#222" stroke-width="1"/>
<text x="38.9" y="576.90" text-anchor="end" font-size="8" font-family="Liberation Sans, sans-serif" fill="#111">4</text>
<line x1="42.3" y1="544.20" x2="45.25" y2="544.20" stroke="#222" stroke-width="1"/>
<text x="38.9" y="546.80" text-anchor="end" font-size="8" font-family="Liberation Sans, sans-serif" fill="#111">6</text>
<line x1="42.3" y1="514.10" x2="45.25" y2="514.10" stroke="#222" stroke-width="1"/>
<text x="38.9" y="516.70" text-anchor="end" font-size="8" font-family="Liberation Sans, sans-serif" fill="#111">8</text>
<line x1="45.20" y1="634.50" x2="45.20" y2="637.30" stroke="#222" stroke-width="1"/>
<text x="45.20" y="646.80" text-anchor="middle" font-size="8" font-family="Liberation Sans, sans-serif" fill="#111">0</text>
<line x1="69.30" y1="634.50" x2="69.30" y2="637.30" stroke="#222" stroke-width="1"/>
<text x="69.30" y="646.80" text-anchor="middle" font-size="8" font-family="Liberation Sans, sans-serif" fill="#111">25</text>
<line x1="93.40" y1="634.50" x2="93.40" y2="637.30" stroke="#222" stroke-width="1"/>
<text x="93.40" y="646.80" text-anchor="middle" font-size="8" font-family="Liberation Sans, sans-serif" fill="#111">50</text>
<line x1="117.50" y1="634.50" x2="117.50" y2="637.30" stroke="#222" stroke-width="1"/>
<text x="117.50" y="646.80" text-anchor="middle" font-size="8" font-family="Liberation Sans, sans-serif" fill="#111">75</text>
<line x1="141.60" y1="634.50" x2="141.60" y2="637.30" stroke="#222" stroke-width="1"/>
<text x="141.60" y="646.80" text-anchor="middle" font-size="8" font-family="Liberation Sans, sans-serif" fill="#111">100</text>
<line x1="165.70" y1="634.50" x2="165.70" y2="637.30" stroke="#222" stroke-width="1"/>
<text x="165.70" y="646.80" text-anchor="middle" font-size="8" font-family="Liberation Sans, sans-serif" fill="#111">125</text>
<line x1="189.80" y1="634.50" x2="189.80" y2="637.30" stroke="#222" stroke-width="1"/>
<text x="189.80" y="646.80" text-anchor="middle" font-size="8" font-family="Liberation Sans, sans-serif" fill="#111">150</text>
<line x1="213.90" y1="634.50" x2="213.90" y2="637.30" stroke="#222" stroke-width="1"/>
<text x="213.90" y="646.80" text-anchor="middle" font-size="8" font-family="Liberation Sans, sans-serif" fill="#111">175</text>
<line x1="238.00" y1="634.50" x2="238.00" y2="637.30" stroke="#222" stroke-width="1"/>
<text x="238.00" y="646.80" text-anchor="middle" font-size="8" font-family="Liberation Sans, sans-serif" fill="#111">200</text>
<line x1="262.10" y1="634.50" x2="262.10" y2="637.30" stroke="#222" stroke-width="1"/>
<text x="262.10" y="646.80" text-anchor="middle" font-size="8" font-family="Liberation Sans, sans-serif" fill="#111">225</text>
<line x1="286.20" y1="634.50" x2="286.20" y2="637.30" stroke="#222" stroke-width="1"/>
<text x="286.20" y="646.80" text-anchor="middle" font-size="8" font-family="Liberation Sans, sans-serif" fill="#111">250</text>
<line x1="310.30" y1="634.50" x2="310.30" y2="637.30" stroke="#222" stroke-width="1"/>
<text x="310.30" y="646.80" text-anchor="middle" font-size="8" font-family="Liberation Sans, sans-serif" fill="#111">275</text>
<line x1="334.40" y1="634.50" x2="334.40" y2="637.30" stroke="#222" stroke-width="1"/>
<text x="334.40" y="646.80" text-anchor="middle" font-size="8" font-family="Liberation Sans, sans-serif" fill="#111">300</text>
<line x1="358.50" y1="634.50" x2="358.50" y2="637.30" stroke="#222" stroke-width="1"/>
<text x="358.50" y="646.80" text-anchor="middle" font-size="8" font-family="Liberation Sans, sans-serif" fill="#111">325</text>
<line x1="45.25" y1="509.60" x2="45.25" y2="635.10" stroke="#222" stroke-width="1.3"/>
<line x1="44.6" y1="634.50" x2="362.7" y2="634.50" stroke="#222" stroke-width="1.3"/>
<path d="M45.20 634.50 L49.54 620.20 L54.36 594.77 L59.66 602.29 L64.48 570.09 L69.30 578.06 L73.83 565.27 L78.75 567.08 L85.69 569.33 L92.44 549.62 L99.18 570.24 L112.68 579.87 L126.18 593.11 L140.06 580.32 L153.17 569.63 L180.16 580.47 L207.15 566.02 L234.14 556.39 L261.14 579.87 L281.38 579.12" fill="none" stroke="#643882" stroke-width="1.05" stroke-linejoin="round"/>
<path d="M45.20 634.50 L49.54 617.04 L54.36 578.36 L59.66 552.48 L64.48 541.34 L69.30 563.46 L73.83 565.12 L78.75 535.02 L85.69 563.01 L92.44 581.98 L99.18 566.02 L112.68 590.86 L126.18 593.11 L140.06 569.33 L153.17 536.37 L180.16 576.71 L207.15 607.11 L234.14 590.25 L261.14 563.01 L281.38 587.09 L295.26 619.60 L301.62 626.22 L308.66 565.27 L315.51 629.53 L322.45 586.04 L329.00 563.61 L335.94 580.32" fill="none" stroke="#215d97" stroke-width="1.05" stroke-linejoin="round"/>
<path d="M45.20 634.50 L49.54 617.95 L54.36 594.77 L59.66 576.26 L64.48 563.61 L69.30 573.55 L73.83 571.44 L85.69 625.47 L99.18 634.50 L112.68 634.50 L126.18 634.50 L139.67 634.50 L153.17 634.50 L180.16 634.50 L207.15 634.50 L234.14 634.50 L261.14 634.50 L288.13 634.50 L315.12 634.50" fill="none" stroke="#d41e46" stroke-width="1.05" stroke-linejoin="round"/>
<path d="M45.20 634.50 L49.54 619.45 L54.36 583.33 L59.66 573.55 L64.48 565.27 L73.83 596.88 L78.75 633.00 L85.69 634.50 L92.44 634.50 L99.18 634.50 L112.68 634.50 L126.18 634.50 L139.67 634.50 L153.17 634.50 L180.16 634.50 L207.15 634.50 L234.14 634.50 L261.14 634.50 L281.38 634.50 L315.12 634.50" fill="none" stroke="#36ade4" stroke-width="1.05" stroke-linejoin="round"/>
<path d="M45.20 636.67L47.10 633.19L43.30 633.19Z" fill="#44135f"/>
<path d="M49.54 622.37L51.44 618.89L47.64 618.89Z" fill="#44135f"/>
<path d="M54.36 596.94L56.26 593.46L52.46 593.46Z" fill="#44135f"/>
<path d="M59.66 604.46L61.56 600.98L57.76 600.98Z" fill="#44135f"/>
<path d="M64.48 572.26L66.38 568.78L62.58 568.78Z" fill="#44135f"/>
<path d="M69.30 580.23L71.20 576.75L67.40 576.75Z" fill="#44135f"/>
<path d="M73.83 567.44L75.73 563.96L71.93 563.96Z" fill="#44135f"/>
<path d="M78.75 569.25L80.65 565.77L76.85 565.77Z" fill="#44135f"/>
<path d="M85.69 571.50L87.59 568.02L83.79 568.02Z" fill="#44135f"/>
<path d="M92.44 551.79L94.34 548.31L90.54 548.31Z" fill="#44135f"/>
<path d="M99.18 572.41L101.08 568.93L97.28 568.93Z" fill="#44135f"/>
<path d="M112.68 582.04L114.58 578.56L110.78 578.56Z" fill="#44135f"/>
<path d="M126.18 595.28L128.08 591.80L124.28 591.80Z" fill="#44135f"/>
<path d="M140.06 582.49L141.96 579.01L138.16 579.01Z" fill="#44135f"/>
<path d="M153.17 571.80L155.07 568.33L151.27 568.33Z" fill="#44135f"/>
<path d="M180.16 582.64L182.06 579.16L178.26 579.16Z" fill="#44135f"/>
<path d="M207.15 568.19L209.05 564.71L205.25 564.71Z" fill="#44135f"/>
<path d="M234.14 558.56L236.04 555.08L232.24 555.08Z" fill="#44135f"/>
<path d="M261.14 582.04L263.04 578.56L259.24 578.56Z" fill="#44135f"/>
<path d="M281.38 581.29L283.28 577.81L279.48 577.81Z" fill="#44135f"/>
<rect x="43.50" y="632.80" width="3.40" height="3.40" fill="#0c427e"/>
<rect x="47.84" y="615.34" width="3.40" height="3.40" fill="#0c427e"/>
<rect x="52.66" y="576.66" width="3.40" height="3.40" fill="#0c427e"/>
<rect x="57.96" y="550.78" width="3.40" height="3.40" fill="#0c427e"/>
<rect x="62.78" y="539.64" width="3.40" height="3.40" fill="#0c427e"/>
<rect x="67.60" y="561.76" width="3.40" height="3.40" fill="#0c427e"/>
<rect x="72.13" y="563.42" width="3.40" height="3.40" fill="#0c427e"/>
<rect x="77.05" y="533.32" width="3.40" height="3.40" fill="#0c427e"/>
<rect x="83.99" y="561.31" width="3.40" height="3.40" fill="#0c427e"/>
<rect x="90.74" y="580.28" width="3.40" height="3.40" fill="#0c427e"/>
<rect x="97.48" y="564.32" width="3.40" height="3.40" fill="#0c427e"/>
<rect x="110.98" y="589.15" width="3.40" height="3.40" fill="#0c427e"/>
<rect x="124.48" y="591.41" width="3.40" height="3.40" fill="#0c427e"/>
<rect x="138.36" y="567.63" width="3.40" height="3.40" fill="#0c427e"/>
<rect x="151.47" y="534.67" width="3.40" height="3.40" fill="#0c427e"/>
<rect x="178.46" y="575.01" width="3.40" height="3.40" fill="#0c427e"/>
<rect x="205.45" y="605.41" width="3.40" height="3.40" fill="#0c427e"/>
<rect x="232.44" y="588.55" width="3.40" height="3.40" fill="#0c427e"/>
<rect x="259.44" y="561.31" width="3.40" height="3.40" fill="#0c427e"/>
<rect x="279.68" y="585.39" width="3.40" height="3.40" fill="#0c427e"/>
<rect x="293.56" y="617.90" width="3.40" height="3.40" fill="#0c427e"/>
<rect x="299.92" y="624.52" width="3.40" height="3.40" fill="#0c427e"/>
<rect x="306.96" y="563.57" width="3.40" height="3.40" fill="#0c427e"/>
<rect x="313.81" y="627.83" width="3.40" height="3.40" fill="#0c427e"/>
<rect x="320.75" y="584.34" width="3.40" height="3.40" fill="#0c427e"/>
<rect x="327.30" y="561.91" width="3.40" height="3.40" fill="#0c427e"/>
<rect x="334.24" y="578.62" width="3.40" height="3.40" fill="#0c427e"/>
<circle cx="45.20" cy="634.50" r="1.70" fill="#cc0a30"/>
<circle cx="49.54" cy="617.95" r="1.70" fill="#cc0a30"/>
<circle cx="54.36" cy="594.77" r="1.70" fill="#cc0a30"/>
<circle cx="59.66" cy="576.26" r="1.70" fill="#cc0a30"/>
<circle cx="64.48" cy="563.61" r="1.70" fill="#cc0a30"/>
<circle cx="69.30" cy="573.55" r="1.70" fill="#cc0a30"/>
<circle cx="73.83" cy="571.44" r="1.70" fill="#cc0a30"/>
<circle cx="85.69" cy="625.47" r="1.70" fill="#cc0a30"/>
<circle cx="99.18" cy="634.50" r="1.70" fill="#cc0a30"/>
<circle cx="112.68" cy="634.50" r="1.70" fill="#cc0a30"/>
<circle cx="126.18" cy="634.50" r="1.70" fill="#cc0a30"/>
<circle cx="139.67" cy="634.50" r="1.70" fill="#cc0a30"/>
<circle cx="153.17" cy="634.50" r="1.70" fill="#cc0a30"/>
<circle cx="180.16" cy="634.50" r="1.70" fill="#cc0a30"/>
<circle cx="207.15" cy="634.50" r="1.70" fill="#cc0a30"/>
<circle cx="234.14" cy="634.50" r="1.70" fill="#cc0a30"/>
<circle cx="261.14" cy="634.50" r="1.70" fill="#cc0a30"/>
<circle cx="288.13" cy="634.50" r="1.70" fill="#cc0a30"/>
<circle cx="315.12" cy="634.50" r="1.70" fill="#cc0a30"/>
<path d="M45.20 632.33L47.10 635.81L43.30 635.81Z" fill="#1fa3e0"/>
<path d="M49.54 617.28L51.44 620.76L47.64 620.76Z" fill="#1fa3e0"/>
<path d="M54.36 581.16L56.26 584.64L52.46 584.64Z" fill="#1fa3e0"/>
<path d="M59.66 571.38L61.56 574.86L57.76 574.86Z" fill="#1fa3e0"/>
<path d="M64.48 563.10L66.38 566.58L62.58 566.58Z" fill="#1fa3e0"/>
<path d="M73.83 594.71L75.73 598.18L71.93 598.18Z" fill="#1fa3e0"/>
<path d="M78.75 630.83L80.65 634.30L76.85 634.30Z" fill="#1fa3e0"/>
<path d="M85.69 632.33L87.59 635.81L83.79 635.81Z" fill="#1fa3e0"/>
<path d="M92.44 632.33L94.34 635.81L90.54 635.81Z" fill="#1fa3e0"/>
<path d="M99.18 632.33L101.08 635.81L97.28 635.81Z" fill="#1fa3e0"/>
<path d="M112.68 632.33L114.58 635.81L110.78 635.81Z" fill="#1fa3e0"/>
<path d="M126.18 632.33L128.08 635.81L124.28 635.81Z" fill="#1fa3e0"/>
<path d="M139.67 632.33L141.57 635.81L137.77 635.81Z" fill="#1fa3e0"/>
<path d="M153.17 632.33L155.07 635.81L151.27 635.81Z" fill="#1fa3e0"/>
<path d="M180.16 632.33L182.06 635.81L178.26 635.81Z" fill="#1fa3e0"/>
<path d="M207.15 632.33L209.05 635.81L205.25 635.81Z" fill="#1fa3e0"/>
<path d="M234.14 632.33L236.04 635.81L232.24 635.81Z" fill="#1fa3e0"/>
<path d="M261.14 632.33L263.04 635.81L259.24 635.81Z" fill="#1fa3e0"/>
<path d="M281.38 632.33L283.28 635.81L279.48 635.81Z" fill="#1fa3e0"/>
<path d="M315.12 632.33L317.02 635.81L313.22 635.81Z" fill="#1fa3e0"/>
<line x1="321" y1="518.10" x2="333.3" y2="518.10" stroke="#d0103a" stroke-width="1" opacity="0.75"/>
<circle cx="327.1" cy="518.10" r="1.7" fill="#cc0a30"/>
<text x="338.6" y="520.05" font-size="7.55" font-family="Liberation Sans, sans-serif" fill="#111">1437L</text>
<line x1="321" y1="527.55" x2="333.3" y2="527.55" stroke="#124f8c" stroke-width="1" opacity="0.75"/>
<circle cx="327.1" cy="527.55" r="2.0" fill="#0c427e"/>
<text x="338.6" y="529.50" font-size="7.55" font-family="Liberation Sans, sans-serif" fill="#111">1453L</text>
<line x1="321" y1="537.00" x2="333.3" y2="537.00" stroke="#27a9e1" stroke-width="1" opacity="0.75"/>
<circle cx="327.1" cy="537.00" r="1.5" fill="#1fa3e0"/>
<text x="338.6" y="538.95" font-size="7.55" font-family="Liberation Sans, sans-serif" fill="#111">1455N</text>
<line x1="321" y1="546.45" x2="333.3" y2="546.45" stroke="#5a2a7e" stroke-width="1" opacity="0.75"/>
<circle cx="327.1" cy="546.45" r="1.5" fill="#44135f"/>
<text x="338.6" y="548.40" font-size="7.55" font-family="Liberation Sans, sans-serif" fill="#111">1455LL</text>
<line x1="438.4" y1="511.5" x2="438.4" y2="641.40" stroke="#222" stroke-width="1.2"/>
<line x1="437.80" y1="640.8" x2="514.2" y2="640.8" stroke="#222" stroke-width="1.2"/>
<line x1="435.3" y1="515.0" x2="438.4" y2="515.0" stroke="#222" stroke-width="1"/>
<text x="432.30" y="517.80" text-anchor="end" font-size="8" font-family="Liberation Sans, sans-serif" fill="#111">4.0</text>
<line x1="435.3" y1="546.2" x2="438.4" y2="546.2" stroke="#222" stroke-width="1"/>
<text x="432.30" y="549.00" text-anchor="end" font-size="8" font-family="Liberation Sans, sans-serif" fill="#111">3.0</text>
<line x1="435.3" y1="577.9" x2="438.4" y2="577.9" stroke="#222" stroke-width="1"/>
<text x="432.30" y="580.70" text-anchor="end" font-size="8" font-family="Liberation Sans, sans-serif" fill="#111">2.0</text>
<line x1="435.3" y1="609.3" x2="438.4" y2="609.3" stroke="#222" stroke-width="1"/>
<text x="432.30" y="612.10" text-anchor="end" font-size="8" font-family="Liberation Sans, sans-serif" fill="#111">1.0</text>
<line x1="435.3" y1="640.8" x2="438.4" y2="640.8" stroke="#222" stroke-width="1"/>
<text x="432.30" y="643.60" text-anchor="end" font-size="8" font-family="Liberation Sans, sans-serif" fill="#111">0.0</text>
<text transform="translate(415.50 577.90) rotate(-90)" x="0" y="0" text-anchor="middle" font-size="8.6" font-family="Liberation Sans, sans-serif" fill="#111" style="stroke-width:0.4px" textLength="30.6" lengthAdjust="spacingAndGlyphs">Copies/cell</text>
<line x1="453.1" y1="612.5" x2="453.1" y2="617.7" stroke="#2a2a2a" stroke-width="1.15"/>
<line x1="450.80" y1="612.5" x2="455.40" y2="612.5" stroke="#2a2a2a" stroke-width="1.15"/>
<line x1="450.80" y1="617.7" x2="455.40" y2="617.7" stroke="#2a2a2a" stroke-width="1.15"/>
<rect x="451.55" y="613.85" width="3.10" height="3.10" fill="#0c427e"/>
<line x1="475.6" y1="593.7" x2="475.6" y2="603.0" stroke="#2a2a2a" stroke-width="1.15"/>
<line x1="473.30" y1="593.7" x2="477.90" y2="593.7" stroke="#2a2a2a" stroke-width="1.15"/>
<line x1="473.30" y1="603.0" x2="477.90" y2="603.0" stroke="#2a2a2a" stroke-width="1.15"/>
<circle cx="475.60" cy="599.80" r="1.50" fill="#1fa3e0"/>
<line x1="498.4" y1="522.8" x2="498.4" y2="534.0" stroke="#2a2a2a" stroke-width="1.15"/>
<line x1="496.10" y1="522.8" x2="500.70" y2="522.8" stroke="#2a2a2a" stroke-width="1.15"/>
<line x1="496.10" y1="534.0" x2="500.70" y2="534.0" stroke="#2a2a2a" stroke-width="1.15"/>
<rect x="497.20" y="527.10" width="2.40" height="2.40" fill="#44135f"/>
</svg></div></body></html>
